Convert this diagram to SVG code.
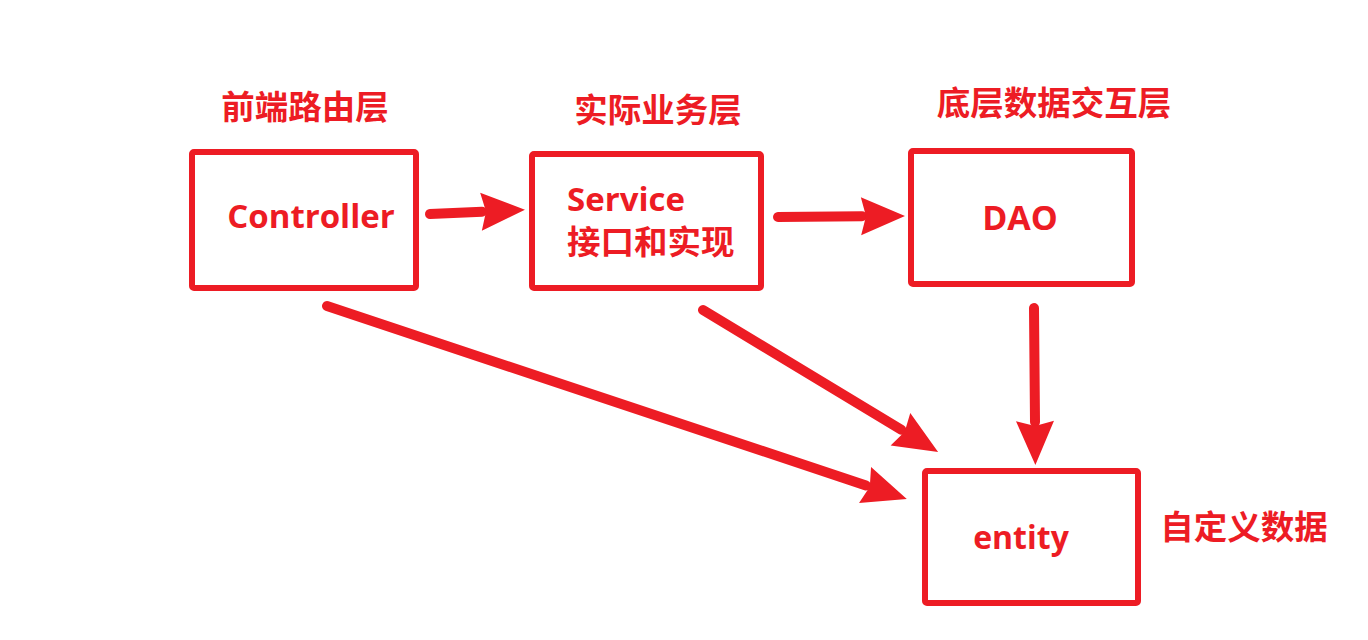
<svg xmlns="http://www.w3.org/2000/svg" width="1368" height="640" viewBox="0 0 1368 640">
  <style>
    .box { fill: #ffffff; stroke: #ED1C24; stroke-width: 6; stroke-linejoin: round; }
    .lbl { fill: #ED1C24; font-family: "Open Sans", "Noto Sans CJK SC", sans-serif; font-weight: bold; }
    .cap { fill: #ED1C24; font-family: "Noto Sans CJK SC", sans-serif; font-weight: bold; font-size: 33.5px; text-anchor: middle; }
    .link { fill: none; stroke: #ED1C24; stroke-width: 10; stroke-linecap: round; marker-end: url(#head); }
  </style>
  <defs>
    <marker id="head" markerUnits="userSpaceOnUse" viewBox="-6 -22 52 44" markerWidth="52" markerHeight="44" refX="0" refY="0" orient="auto" overflow="visible">
      <path d="M-1,-19 L43,0 L-1,19 L4,0 Z" fill="#ED1C24"/>
    </marker>
  </defs>
  <rect width="1368" height="640" fill="#ffffff"/>

  <!-- layer captions -->
  <g id="captions">
    <text class="cap" x="305" y="119">前端路由层</text>
    <text class="cap" x="658" y="122">实际业务层</text>
    <text class="cap" x="1054" y="115">底层数据交互层</text>
    <text class="cap" x="1244" y="539">自定义数据</text>
  </g>

  <g id="controller">
    <rect class="box" x="192" y="152" width="224" height="136" rx="2"/>
    <text class="lbl" x="311" y="228" font-size="33" text-anchor="middle">Controller</text>
  </g>

  <g id="service">
    <rect class="box" x="532" y="154" width="229" height="134" rx="2"/>
    <text class="lbl" x="567" y="211" font-size="33">Service</text>
    <text class="lbl" x="567" y="254" font-size="33.5" font-family="Noto Sans CJK SC, sans-serif">接口和实现</text>
  </g>

  <g id="dao">
    <rect class="box" x="911" y="151" width="221" height="133" rx="2"/>
    <text class="lbl" x="1020" y="230" font-size="34" text-anchor="middle">DAO</text>
  </g>

  <g id="entity">
    <rect class="box" x="925" y="471" width="213" height="132" rx="2"/>
    <text class="lbl" x="1021" y="549" font-size="32" text-anchor="middle">entity</text>
  </g>

  <g id="connectors">
    <line class="link" x1="430" y1="214" x2="482" y2="211.7"/>
    <line class="link" x1="778" y1="217" x2="862" y2="216.3"/>
    <line class="link" x1="1034" y1="308" x2="1035" y2="422"/>
    <line class="link" x1="327" y1="306" x2="866" y2="485.4"/>
    <line class="link" x1="703" y1="310" x2="901.3" y2="429.8"/>
  </g>
</svg>
